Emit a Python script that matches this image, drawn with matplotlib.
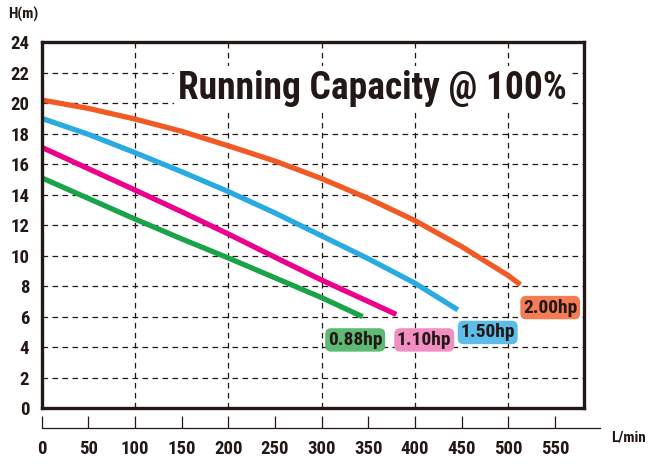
import matplotlib
matplotlib.use("Agg")
import matplotlib.pyplot as plt
from matplotlib import font_manager

# pump curves (flow L/min, head m)
flow_088 = [0, 50, 100, 150, 200, 250, 300, 344]
head_088 = [15.1, 13.75, 12.4, 11.1, 9.85, 8.55, 7.25, 6.0]

flow_110 = [0, 50, 100, 150, 200, 250, 300, 350, 380]
head_110 = [17.1, 15.7, 14.3, 12.88, 11.42, 9.9, 8.4, 7.0, 6.15]

flow_150 = [0, 50, 100, 150, 200, 250, 300, 350, 400, 446]
head_150 = [19.0, 17.95, 16.75, 15.5, 14.2, 12.8, 11.3, 9.8, 8.2, 6.45]

flow_200 = [0, 50, 100, 150, 200, 250, 300, 350, 400, 450, 500, 513]
head_200 = [20.2, 19.65, 18.95, 18.15, 17.2, 16.2, 15.05, 13.75, 12.3, 10.6, 8.7, 8.1]

labels = ["0.88hp", "1.10hp", "1.50hp", "2.00hp"]
label_x = [336, 410, 478, 545]
label_y = [4.48, 4.48, 4.97, 6.6]

x_ticks = [0, 50, 100, 150, 200, 250, 300, 350, 400, 450, 500, 550]
y_ticks = [0, 2, 4, 6, 8, 10, 12, 14, 16, 18, 20, 22, 24]

line_colors = ["#1ba34a", "#ec008c", "#29abe2", "#f15a24"]
box_colors = ["#5dba75", "#f28fc2", "#5cbde8", "#f47c55"]
dark = "#231815"

# the chart uses a bold condensed face; take whatever narrow font is around
names = {f.name for f in font_manager.fontManager.ttflist}
narrow_fam, stretch = "DejaVu Sans", "condensed"
for cand in ["Liberation Sans Narrow", "Roboto Condensed", "Open Sans Condensed",
             "DejaVu Sans Condensed", "Noto Sans Condensed"]:
    if cand in names:
        narrow_fam, stretch = cand, "normal"
        break


def fp(size):
    return font_manager.FontProperties(family=narrow_fam, stretch=stretch,
                                       weight="bold", size=size)


W, H = 649, 466
fig = plt.figure(figsize=(W / 100, H / 100), dpi=100)

# main boxed plot
x0, x1 = 41.7, 584
y_top, y_bot = 42, 408.3
ax = fig.add_axes([x0 / W, 1 - y_bot / H, (x1 - x0) / W, (y_bot - y_top) / H])
ax.set_xlim(0, (x1 - x0) / 0.933)
ax.set_ylim(0, 24)

for x in [100, 200, 300, 400, 500]:
    ax.axvline(x, color=dark, lw=0.9, ls=(0, (4.5, 3.5)), zorder=1)
for y in y_ticks[1:-1]:
    ax.axhline(y, color=dark, lw=0.9, ls=(0, (4.5, 3.5)), zorder=1)

curves = [(flow_088, head_088), (flow_110, head_110),
          (flow_150, head_150), (flow_200, head_200)]
for (fx, hy), c in zip(curves, line_colors):
    ax.plot(fx, hy, color=c, lw=3.8, solid_capstyle="butt",
            solid_joinstyle="round", zorder=3)

for txt, lx, ly, bc in zip(labels, label_x, label_y, box_colors):
    ax.text(lx, ly, txt, ha="center", va="center", color=dark, zorder=5,
            fontproperties=fp(14),
            bbox=dict(boxstyle="round,pad=0.14,rounding_size=0.3",
                      fc=bc, ec="none"))

ax.text(354.5, 20.95, "Running Capacity @ 100%", ha="center", va="center",
        color=dark, zorder=4, fontproperties=fp(27),
        bbox=dict(boxstyle="square,pad=0.1", fc="white", ec="none"))

for s in ax.spines.values():
    s.set_linewidth(2.4)
    s.set_color(dark)
    s.set_zorder(6)
ax.set_xticks([])
ax.set_yticks(y_ticks)
ax.set_yticklabels([str(v) for v in y_ticks], color=dark, fontproperties=fp(13.5))
ax.tick_params(axis="y", length=0, pad=9)

# separate flow scale below the box
ax2 = fig.add_axes([x0 / W, 1 - 428 / H, (600 - x0) / W, 0.0001])
ax2.set_xlim(0, (600 - x0) / 0.933)
for side in ["top", "left", "right"]:
    ax2.spines[side].set_visible(False)
ax2.spines["bottom"].set_linewidth(0.9)
ax2.spines["bottom"].set_color(dark)
ax2.set_yticks([])
ax2.set_xticks(x_ticks)
ax2.set_xticklabels([str(v) for v in x_ticks], color=dark, fontproperties=fp(13.5))
ax2.tick_params(axis="x", direction="in", length=9, width=0.9, color=dark, pad=9)

fig.text(23 / W, 1 - 14 / H, "H(m)", ha="center", va="center", color=dark,
         fontproperties=fp(11))
fig.text(628 / W, 1 - 437 / H, "L/min", ha="center", va="center", color=dark,
         fontproperties=fp(11))

fig.savefig("out.png", dpi=100)
